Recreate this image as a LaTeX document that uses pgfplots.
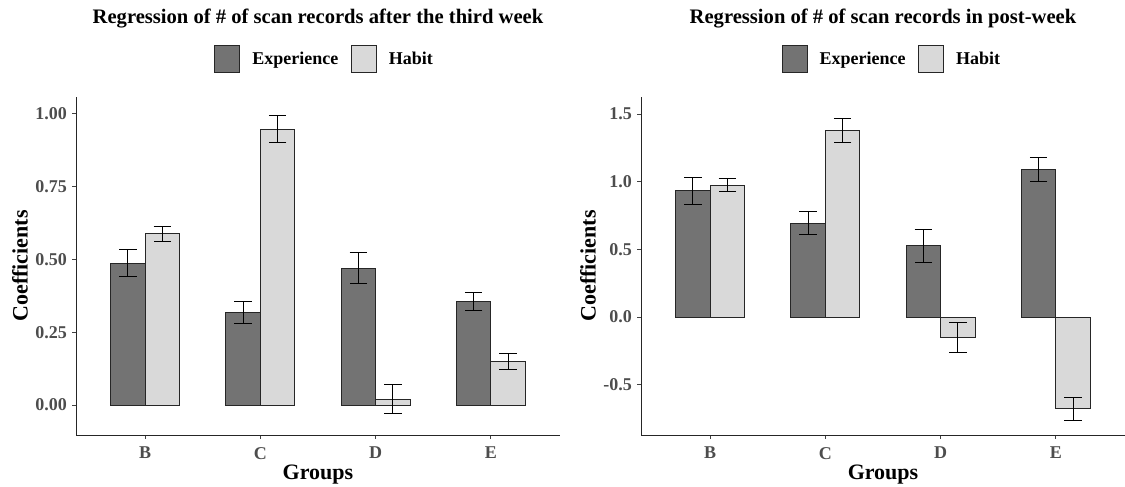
\documentclass[border=0pt]{standalone}
\usepackage{fontspec}
\setmainfont{Liberation Serif}
\usepackage{pgfplots}
\pgfplotsset{compat=1.18}
\definecolor{expc}{HTML}{737373}
\definecolor{habc}{HTML}{D9D9D9}
\definecolor{tickc}{HTML}{4D4D4D}
\pgfplotsset{
 panel/.style={
  scale only axis, width=484pt, height=338pt,
  axis lines=left, axis line style={-, black!85, line width=0.8pt},
  xmin=0.4, xmax=4.6, xtick={1,2,3,4}, xticklabels={B,C,D,E},
  tick align=outside, major tick length=4pt,
  tick style={black!75, line width=0.8pt},
  ticklabel style={font=\fontsize{18}{18}\selectfont\bfseries, text=tickc},
  yticklabel style={inner sep=0pt, anchor=east, xshift=-5pt},
  xticklabel style={inner sep=0pt, anchor=north, yshift=-8pt},
  xlabel={Groups}, ylabel={Coefficients},
  label style={font=\fontsize{22}{22}\selectfont\bfseries},
  xlabel style={at={(axis description cs:0.5,-0.133)}, anchor=base},
  legend style={draw=none, fill=none, anchor=west, legend columns=2,
    inner sep=0pt, outer sep=0pt,
    font=\fontsize{18}{18}\selectfont\bfseries,
    nodes={inner xsep=0pt, inner ysep=0pt},
    /tikz/every odd column/.append style={column sep=12pt},
    /tikz/every even column/.append style={column sep=12.5pt}},
  clip=false,
 },
 errs/.style={
   error bars/y dir=both, error bars/y explicit,
   error bars/error bar style={line width=1pt, black},
   error bars/error mark options={rotate=90, line width=1pt, black, mark size=8.8pt}},
 barE/.style={ybar, bar width=0.3, bar shift=0, fill=expc, draw=black!85, line width=1pt, errs},
 barH/.style={ybar, bar width=0.3, bar shift=0, fill=habc, draw=black!85, line width=1pt, errs},
 legE/.style={legend image code/.code={\draw[fill=expc, draw=black!85, line width=1pt] (0pt,-13.3pt) rectangle (25pt,13.3pt);}},
 legH/.style={legend image code/.code={\draw[fill=habc, draw=black!85, line width=1pt] (0pt,-13.3pt) rectangle (25pt,13.3pt);}},
}
\begin{document}
\begin{tikzpicture}
\path[use as bounding box] (0,0) rectangle (1125pt,487pt);
% Left panel
\begin{axis}[panel, at={(76pt,52pt)}, anchor=south west,
  ymin=-0.103, ymax=1.058,
  ytick={0,0.25,0.5,0.75,1}, yticklabels={0.00,0.25,0.50,0.75,1.00},
  legend style={at={(axis description cs:0.286,1.113)}},
  ylabel style={at={(axis description cs:-0.1157,0.5)}, anchor=center},
]
\addlegendimage{legE}
\addlegendentry{Experience}
\addlegendimage{legH}
\addlegendentry{Habit}
\addplot[forget plot, barE] table[x=x, y=y, y error=e] {
x y e
0.85 0.487 0.047
1.85 0.318 0.038
2.85 0.470 0.054
3.85 0.355 0.031
};
\addplot[forget plot, barH] table[x=x, y=y, y error=e] {
x y e
1.15 0.588 0.025
2.15 0.948 0.045
3.15 0.020 0.049
4.15 0.150 0.027
};
\end{axis}
\node[anchor=base, inner sep=0pt, font=\fontsize{20.6}{20.6}\selectfont\bfseries] at (318pt,463pt) {Regression of \# of scan records after the third week};
% Right panel
\begin{axis}[panel, at={(641pt,52pt)}, anchor=south west,
  ymin=-0.871, ymax=1.625,
  ytick={-0.5,0,0.5,1,1.5}, yticklabels={-0.5,0.0,0.5,1.0,1.5},
  legend style={at={(axis description cs:0.2907,1.113)}},
  ylabel style={at={(axis description cs:-0.1095,0.5)}, anchor=center},
]
\addlegendimage{legE}
\addlegendentry{Experience}
\addlegendimage{legH}
\addlegendentry{Habit}
\addplot[forget plot, barE] table[x=x, y=y, y error=e] {
x y e
0.85 0.933 0.100
1.85 0.694 0.088
2.85 0.527 0.123
3.85 1.088 0.088
};
\addplot[forget plot, barH] table[x=x, y=y, y error=e] {
x y e
1.15 0.975 0.045
2.15 1.379 0.087
3.15 -0.150 0.110
4.15 -0.679 0.085
};
\end{axis}
\node[anchor=base, inner sep=0pt, font=\fontsize{20.6}{20.6}\selectfont\bfseries] at (883pt,463pt) {Regression of \# of scan records in post-week};
\end{tikzpicture}
\end{document}
